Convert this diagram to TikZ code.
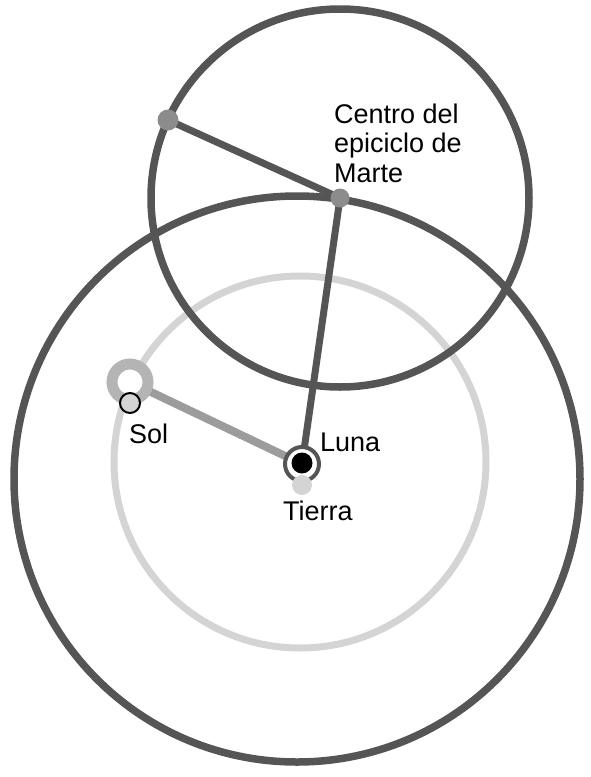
\documentclass[tikz,border=0pt]{standalone}
\usepackage{fontspec}
\setmainfont{Liberation Sans}
\definecolor{mdark}{HTML}{555555}
\definecolor{mmid}{HTML}{9C9C9C}
\definecolor{mring}{HTML}{B4B4B4}
\definecolor{mlight}{HTML}{D4D4D4}
\definecolor{mdot}{HTML}{8C8C8C}

\begin{document}
\begin{tikzpicture}[x=1pt,y=-1pt,
  orbit/.style={draw=mdark,line width=7.5pt},
  sunorbit/.style={draw=mlight,line width=7pt},
  arm/.style={mdark,line width=7pt},
  sunarm/.style={mmid,line width=8pt},
  pt/.style={circle,fill=mdot,inner sep=0pt,minimum size=19pt},
  lbl/.style={font=\fontsize{27}{29.5}\selectfont,inner sep=0pt,align=left}]
\useasboundingbox (0,0) rectangle (590,777);
% orbits
\draw[orbit] (297,479) circle (283pt);
\draw[sunorbit] (300,462) circle (186pt);
\draw[orbit] (340,198) circle (189pt);
% points
\coordinate (epic) at (340,198);
\coordinate (marte) at (168,120);
\coordinate (solc) at (130,382);
\coordinate (lunac) at (302,464);
% arms
\draw[sunarm] (solc) -- (lunac);
\draw[arm] (epic) -- (lunac);
\draw[arm] (marte) -- (epic);
% bodies
\node[pt] (epicdot) at (epic) {};
\node[pt,minimum size=21pt] (martedot) at (marte) {};
\node[circle,draw=mring,line width=11pt,fill=white,inner sep=0pt,minimum size=36pt] (solring) at (solc) {};
\node[circle,draw=black,line width=2pt,fill=mlight,inner sep=0pt,minimum size=20pt] (sol) at (130,403) {};
\node[circle,draw=mdark,line width=4pt,fill=white,inner sep=0pt,minimum size=34pt] (lunaring) at (lunac) {};
\node[circle,fill=black,inner sep=0pt,minimum size=21pt] (luna) at (302,463) {};
\node[circle,fill=mlight,inner sep=0pt,minimum size=20pt] (tierra) at (302,485) {};
% labels
\node[lbl,anchor=north west] (centrolbl) at (334,103.3) {Centro del\\epiciclo de\\Marte};
\node[lbl,anchor=base west] (sollbl) at (129,443) {Sol};
\node[lbl,anchor=base west] (lunalbl) at (320,451.7) {Luna};
\node[lbl,anchor=base west] (tierralbl) at (283,520) {Tierra};
\end{tikzpicture}
\end{document}
